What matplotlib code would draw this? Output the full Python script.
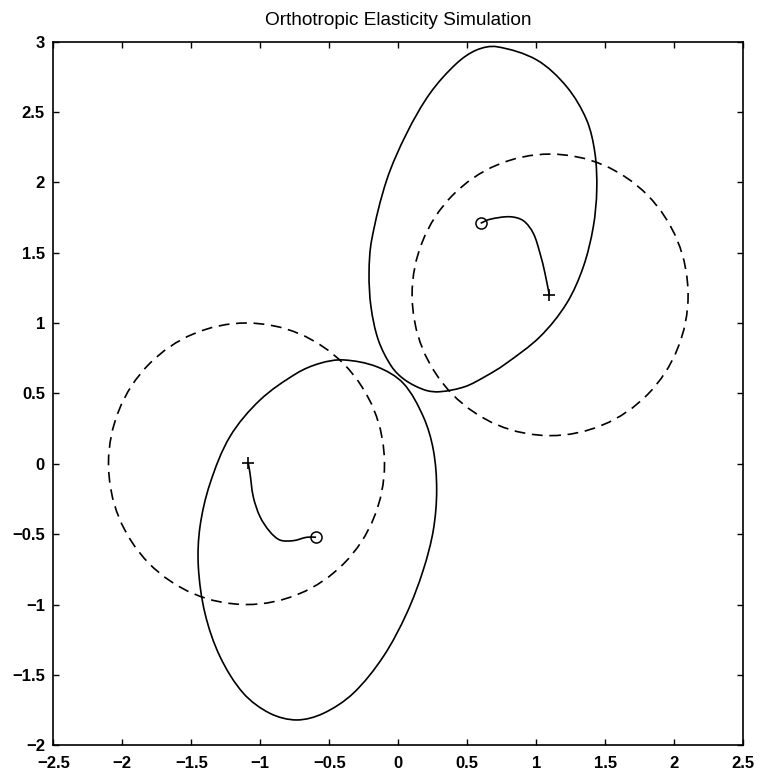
import numpy as np
import matplotlib
matplotlib.use("Agg")
import matplotlib.pyplot as plt
from matplotlib.path import Path
from matplotlib.patches import PathPatch, Circle

plt.rcParams['font.family'] = ['Liberation Sans', 'DejaVu Sans']

title = "Orthotropic Elasticity Simulation"

# undeformed (dashed) circles: centers and radius
circle_centers = [(-1.1, 0.0), (1.1, 1.2)]
circle_radius = 1.0

# deformed shapes (solid closed curves)
right_shape_x = [0.713, 1.003, 1.220, 1.365, 1.425, 1.438, 1.413, 1.341, 1.220, 1.027,
                 0.770, 0.628, 0.483, 0.302, 0.193, 0.049, -0.048, -0.145, -0.198,
                 -0.212, -0.193, -0.084, 0.061, 0.230, 0.423, 0.568]
right_shape_y = [2.963, 2.869, 2.679, 2.442, 2.206, 1.945, 1.684, 1.400, 1.140, 0.903,
                 0.705, 0.619, 0.548, 0.512, 0.524, 0.595, 0.690, 0.880, 1.116,
                 1.356, 1.590, 2.016, 2.348, 2.632, 2.845, 2.940]
left_shape_x = [-0.399, -0.157, 0.036, 0.181, 0.254, 0.278, 0.254, 0.181, 0.061, -0.109,
                -0.326, -0.543, -0.736, -0.930, -1.123, -1.292, -1.401, -1.449, -1.437,
                -1.364, -1.220, -1.002, -0.736, -0.567]
left_shape_y = [0.738, 0.690, 0.572, 0.335, 0.098, -0.186, -0.470, -0.754, -1.062, -1.370,
                -1.630, -1.773, -1.820, -1.773, -1.630, -1.370, -1.062, -0.731, -0.447,
                -0.139, 0.193, 0.453, 0.643, 0.714]

# trajectories from '+' (start) to 'o' (end)
left_path_x = [-1.087, -1.075, -1.051, -1.002, -0.930, -0.857, -0.760, -0.663, -0.596]
left_path_y = [0.004, -0.065, -0.234, -0.376, -0.483, -0.542, -0.546, -0.522, -0.522]
right_path_x = [1.094, 1.063, 1.027, 0.978, 0.906, 0.809, 0.664, 0.597]
right_path_y = [1.199, 1.353, 1.495, 1.638, 1.727, 1.755, 1.737, 1.709]

xticks = [-2.5, -2, -1.5, -1, -0.5, 0, 0.5, 1, 1.5, 2, 2.5]
yticks = [-2, -1.5, -1, -0.5, 0, 0.5, 1, 1.5, 2, 2.5, 3]


def _bezier_path(pts, closed):
    n = len(pts)
    verts = [pts[0]]
    codes = [Path.MOVETO]
    segs = n if closed else n - 1

    def tangent(i):
        if closed:
            pm, p, pp = pts[(i - 1) % n], pts[i], pts[(i + 1) % n]
        else:
            pm = pts[max(i - 1, 0)]
            p = pts[i]
            pp = pts[min(i + 1, n - 1)]
        d1 = np.linalg.norm(p - pm)
        d2 = np.linalg.norm(pp - p)
        return (pp - pm) / max(d1 + d2, 1e-9)

    for i in range(segs):
        j = (i + 1) % n
        p1, p2 = pts[i], pts[j]
        d = np.linalg.norm(p2 - p1)
        c1 = p1 + tangent(i) * d / 3.0
        c2 = p2 - tangent(j) * d / 3.0
        verts += [c1, c2, p2]
        codes += [Path.CURVE4] * 3
    return Path(verts, codes)


fig = plt.figure(figsize=(7.61, 7.72), dpi=100)
ax = fig.add_axes([53.3 / 761, 1 - 745.3 / 772, 690 / 761, 703.8 / 772])

lw = 1.2
for c in circle_centers:
    ax.add_patch(Circle(c, circle_radius, fill=False, edgecolor='black', lw=lw,
                        linestyle=(0, (6.5, 4))))

for xs, ys in [(right_shape_x, right_shape_y), (left_shape_x, left_shape_y)]:
    pts = np.column_stack([xs, ys])
    ax.add_patch(PathPatch(_bezier_path(pts, True), fill=False, edgecolor='black', lw=lw))

for xs, ys in [(left_path_x, left_path_y), (right_path_x, right_path_y)]:
    pts = np.column_stack([xs, ys])
    ax.add_patch(PathPatch(_bezier_path(pts, False), fill=False, edgecolor='black', lw=lw))
    ax.plot(xs[0], ys[0], marker='+', color='black', markersize=9, mew=1.2)
    ax.plot(xs[-1], ys[-1], marker='o', color='black', markersize=8, mew=1.1,
            markerfacecolor='none')

ax.set_xlim(-2.5, 2.5)
ax.set_ylim(-2, 3)
ax.set_xticks(xticks)
ax.set_yticks(yticks)
ax.set_xticklabels([f"{t:g}".replace('-', '\u2212') for t in xticks])
ax.set_yticklabels([f"{t:g}".replace('-', '\u2212') for t in yticks])
ax.tick_params(direction='in', top=True, right=True, length=4.5, width=1.0,
               labelsize=12)
ax.tick_params(axis='y', pad=6)
ax.tick_params(axis='x', pad=8)
for lab in ax.get_xticklabels() + ax.get_yticklabels():
    lab.set_fontweight('bold')
for s in ax.spines.values():
    s.set_linewidth(1.2)

ax.set_title(title, fontsize=13.7, pad=12)

fig.savefig("out.png", dpi=100)
